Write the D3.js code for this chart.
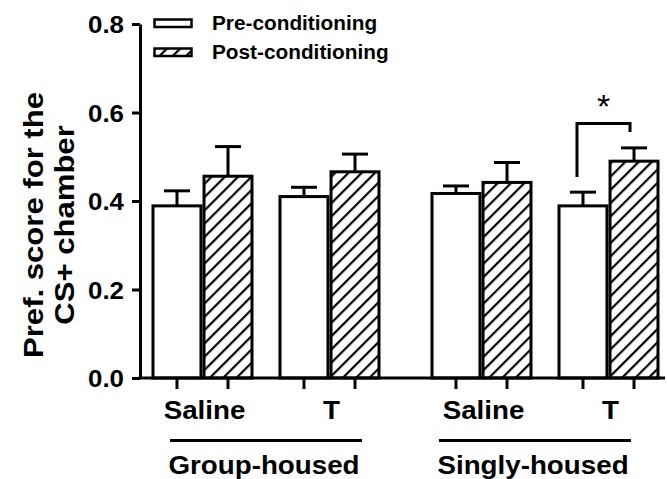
<!DOCTYPE html>
<html>
<head>
<meta charset="utf-8">
<script src="https://cdn.jsdelivr.net/npm/d3@7/dist/d3.min.js"></script>
<style>
  html, body { margin: 0; padding: 0; background: #fff; }
  svg { display: block; }
  text { font-family: "Liberation Sans", Arial, Helvetica, sans-serif; fill: #000; }
</style>
</head>
<body>
<svg id="chart" width="667" height="479"></svg>
<script>
// ---- data ----
const groups = ["Group-housed", "Singly-housed"];
const treatments = ["Saline", "T"];
const conditions = ["Pre-conditioning", "Post-conditioning"];
// one value per group × treatment, in order: GH-Saline, GH-T, SH-Saline, SH-T
const preMeans  = [0.389, 0.410, 0.417, 0.389];
const preSEM    = [0.034, 0.021, 0.017, 0.031];
const postMeans = [0.456, 0.466, 0.442, 0.490];
const postSEM   = [0.067, 0.040, 0.045, 0.030];
const yTicks = [0, 0.2, 0.4, 0.6, 0.8];
const yLabelLines = ["Pref. score for the", "CS+ chamber"];
// significance bracket (Singly-housed, T: pre vs post)
const sigGroup = "Singly-housed";
const sigTreatment = "T";
const sigLevels = [0.454, 0.575, 0.556]; // left foot, top, right foot
const sigLabel = "*";

// ---- layout ----
const svg = d3.select("#chart");
const axisX = 140, axisY = 378, axisTop = 24, axisRight = 665;
const stroke = 3;
const sx = 1.11; // text is drawn slightly wide along its own direction

const y = d3.scaleLinear().domain([0, 0.8]).range([axisY, axisTop]);
const xGroup = d3.scaleBand().domain(groups).range([153, 658]).paddingInner(0.19).paddingOuter(0);
const xTreat = d3.scaleBand().domain(treatments).range([0, xGroup.bandwidth()]).paddingInner(0.2205).paddingOuter(0);
const xCond = d3.scaleBand().domain(conditions).range([0, xTreat.bandwidth()]).paddingInner(0.06).paddingOuter(0);

const rows = [];
groups.forEach((g, gi) => treatments.forEach((t, ti) => {
  const i = gi * treatments.length + ti;
  rows.push({g, t, cond: conditions[0], mean: preMeans[i], sem: preSEM[i]});
  rows.push({g, t, cond: conditions[1], mean: postMeans[i], sem: postSEM[i]});
}));
const barX = d => xGroup(d.g) + xTreat(d.t) + xCond(d.cond);
const barC = d => barX(d) + xCond.bandwidth() / 2;

// hatch pattern for post-conditioning
const defs = svg.append("defs");
defs.append("pattern")
  .attr("id", "hatch")
  .attr("patternUnits", "userSpaceOnUse")
  .attr("width", 9.4).attr("height", 9.4)
  .attr("patternTransform", "rotate(45)")
  .call(p => {
    p.append("rect").attr("width", 9.4).attr("height", 9.4).attr("fill", "#fff");
    p.append("line").attr("x1", 2).attr("y1", 0).attr("x2", 2).attr("y2", 9.4)
      .attr("stroke", "#000").attr("stroke-width", 2.2);
  });
const fillFor = c => c === conditions[1] ? "url(#hatch)" : "#fff";

// ---- error bars (upward only) ----
const err = svg.append("g").attr("stroke", "#000").attr("stroke-width", stroke).attr("fill", "none");
err.selectAll("line.stem").data(rows).join("line")
  .attr("class", "stem")
  .attr("x1", barC).attr("x2", barC)
  .attr("y1", d => y(d.mean)).attr("y2", d => y(d.mean + d.sem));
err.selectAll("line.cap").data(rows).join("line")
  .attr("class", "cap")
  .attr("x1", d => barC(d) - 13).attr("x2", d => barC(d) + 13)
  .attr("y1", d => y(d.mean + d.sem)).attr("y2", d => y(d.mean + d.sem));

// ---- bars ----
svg.append("g").selectAll("rect").data(rows).join("rect")
  .attr("x", barX)
  .attr("y", d => y(d.mean))
  .attr("width", xCond.bandwidth())
  .attr("height", d => y(0) - y(d.mean))
  .attr("fill", d => fillFor(d.cond))
  .attr("stroke", "#000")
  .attr("stroke-width", stroke);

// ---- y axis ----
const yAxis = svg.append("g")
  .attr("transform", `translate(${axisX},0)`)
  .call(d3.axisLeft(y).tickValues(yTicks).tickFormat(d3.format(".1f")).tickSize(8).tickSizeOuter(0));
yAxis.select(".domain").attr("stroke-width", stroke).attr("stroke", "#000");
yAxis.selectAll(".tick line").attr("stroke-width", stroke).attr("stroke", "#000");
yAxis.selectAll(".tick text")
  .attr("x", 0).attr("dy", "0.36em")
  .attr("transform", `translate(-16,0) scale(1.08,1)`)
  .attr("font-size", 24).attr("font-weight", "bold")
  .attr("font-family", "Liberation Sans, Arial, sans-serif");

// ---- x axis ----
const xLine = d3.scaleLinear().range([axisX, axisRight]);
svg.append("line")
  .attr("x1", xLine.range()[0] - stroke / 2).attr("x2", xLine.range()[1])
  .attr("y1", axisY).attr("y2", axisY)
  .attr("stroke", "#000").attr("stroke-width", stroke);
svg.append("g").selectAll("line").data(rows).join("line")
  .attr("x1", barC).attr("x2", barC)
  .attr("y1", axisY).attr("y2", axisY + 11)
  .attr("stroke", "#000").attr("stroke-width", stroke);

// treatment labels
const treatRows = [];
groups.forEach(g => treatments.forEach(t => treatRows.push({g, t})));
svg.append("g").selectAll("text").data(treatRows).join("text")
  .attr("transform", d => `translate(${xGroup(d.g) + xTreat(d.t) + xTreat.bandwidth() / 2 + 2},419) scale(${sx},1)`)
  .attr("text-anchor", "middle")
  .attr("font-size", 25).attr("font-weight", "bold")
  .text(d => d.t);

// group underline + label
const groupShift = {"Group-housed": 0, "Singly-housed": -10};
const gc = g => xGroup(g) + xGroup.bandwidth() / 2 + groupShift[g];
svg.append("g").selectAll("line").data(groups).join("line")
  .attr("x1", g => gc(g) - 96).attr("x2", g => gc(g) + 96)
  .attr("y1", 440.5).attr("y2", 440.5)
  .attr("stroke", "#000").attr("stroke-width", stroke);
svg.append("g").selectAll("text").data(groups).join("text")
  .attr("transform", g => `translate(${gc(g) - 2},474) scale(${sx},1)`)
  .attr("text-anchor", "middle")
  .attr("font-size", 25).attr("font-weight", "bold")
  .text(g => g);

// ---- y label ----
svg.append("g").attr("transform", "translate(0,225)")
  .selectAll("text").data(yLabelLines).join("text")
  .attr("transform", (d, i) => `translate(${43 + i * 31},0) rotate(-90) scale(${sx},1)`)
  .attr("text-anchor", "middle")
  .attr("font-size", 28).attr("font-weight", "bold")
  .text(d => d);

// ---- legend ----
const legend = svg.append("g");
conditions.forEach((c, i) => {
  legend.append("rect")
    .attr("x", 154.5).attr("y", 19.5 + i * 29)
    .attr("width", 37).attr("height", 7.5)
    .attr("fill", fillFor(c)).attr("stroke", "#000").attr("stroke-width", 2.5);
  legend.append("text")
    .attr("transform", `translate(212,${30 + i * 28.5}) scale(1.05,1)`)
    .attr("font-size", 19.8).attr("font-weight", "bold")
    .text(c);
});

// ---- significance bracket ----
const sigRow = k => rows.find(r => r.g === sigGroup && r.t === sigTreatment && r.cond === conditions[k]);
const bx1 = barC(sigRow(0)) - 6, bx2 = barC(sigRow(1)) - 4;
svg.append("path")
  .attr("d", d3.line()([[bx1, y(sigLevels[0])], [bx1, y(sigLevels[1])], [bx2, y(sigLevels[1])], [bx2, y(sigLevels[2])]]))
  .attr("fill", "none").attr("stroke", "#000").attr("stroke-width", stroke);
svg.append("text")
  .attr("x", (bx1 + bx2) / 2).attr("y", y(sigLevels[1]) - 6)
  .attr("text-anchor", "middle")
  .attr("font-size", 34)
  .text(sigLabel);
</script>
</body>
</html>
